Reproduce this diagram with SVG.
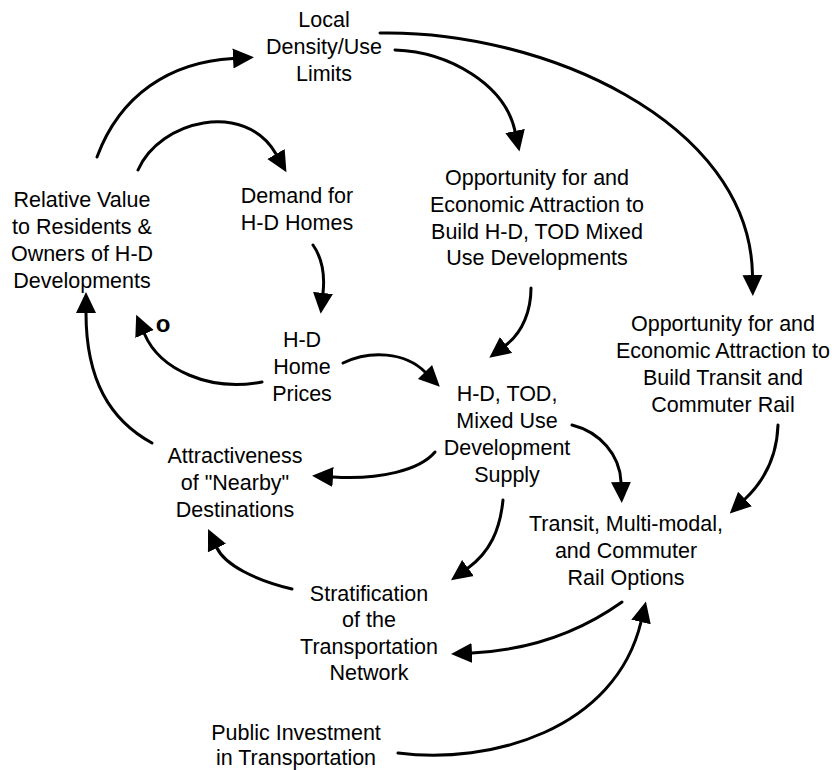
<svg xmlns="http://www.w3.org/2000/svg" width="834" height="770" viewBox="0 0 834 770">
<style>
.lbl{font-family:"Liberation Sans",Arial,sans-serif;font-size:21.5px;text-anchor:middle;fill:#000}
.pol{font-family:"Liberation Sans",Arial,sans-serif;font-size:24px;font-weight:bold;text-anchor:middle;fill:#000}
.c{fill:none;stroke:#000;stroke-width:3;stroke-linecap:round;marker-end:url(#ah)}
</style>
<defs>
<marker id="ah" markerUnits="userSpaceOnUse" markerWidth="22" markerHeight="22" refX="0" refY="10" orient="auto" viewBox="0 0 22 20">
<path d="M0,0 L21,10 L0,20 Z" fill="#000"/>
</marker>
</defs>
<rect width="834" height="770" fill="#fff"/>
<g id="connectors">
<path class="c" d="M97,157 C120,95 170,62 233,58.5"/>
<path class="c" d="M138,170 C160,120 245,100 276,154"/>
<path class="c" d="M395,50 C450,52 505,85 515,131"/>
<path class="c" d="M380,33 C540,30 750,120 752.5,275"/>
<path class="c" d="M313,245 C322,258 325,275 323,293"/>
<path class="c" d="M262,382 C210,392 160,370 144.5,334"/>
<path class="c" d="M343,363 C370,350 405,352 425,372"/>
<path class="c" d="M531,288 C531,310 523,332 506,345"/>
<path class="c" d="M435,452 C420,470 380,480 333,477"/>
<path class="c" d="M572,425 C600,432 620,455 621,482"/>
<path class="c" d="M778,425 C777,455 765,480 745,499"/>
<path class="c" d="M503,500 C500,530 490,552 468,568"/>
<path class="c" d="M622,602 C580,632 530,650 472,653"/>
<path class="c" d="M398,753 C490,765 615,730 641,622"/>
<path class="c" d="M292,589 C255,580 225,565 217,548"/>
<path class="c" d="M152,443 C110,420 86,380 86,313"/>
<text class="pol" x="163" y="332">o</text>
</g>
<g id="local"><text class="lbl"><tspan x="324" y="27">Local</tspan><tspan x="324" y="54">Density/Use</tspan><tspan x="324" y="81">Limits</tspan></text></g>
<g id="demand"><text class="lbl"><tspan x="297" y="203">Demand for</tspan><tspan x="297" y="230">H-D Homes</tspan></text></g>
<g id="relative"><text class="lbl"><tspan x="82" y="207">Relative Value</tspan><tspan x="82" y="234">to Residents &amp;</tspan><tspan x="82" y="261">Owners of H-D</tspan><tspan x="82" y="288">Developments</tspan></text></g>
<g id="tod-opportunity"><text class="lbl"><tspan x="537" y="185">Opportunity for and</tspan><tspan x="537" y="212">Economic Attraction to</tspan><tspan x="537" y="239">Build H-D, TOD Mixed</tspan><tspan x="537" y="265">Use Developments</tspan></text></g>
<g id="prices"><text class="lbl"><tspan x="302" y="347">H-D</tspan><tspan x="302" y="374">Home</tspan><tspan x="302" y="401">Prices</tspan></text></g>
<g id="supply"><text class="lbl"><tspan x="507" y="401">H-D, TOD,</tspan><tspan x="507" y="428">Mixed Use</tspan><tspan x="507" y="455">Development</tspan><tspan x="507" y="482">Supply</tspan></text></g>
<g id="transit-opportunity"><text class="lbl"><tspan x="723" y="331">Opportunity for and</tspan><tspan x="723" y="358">Economic Attraction to</tspan><tspan x="723" y="385">Build Transit and</tspan><tspan x="723" y="412">Commuter Rail</tspan></text></g>
<g id="attractiveness"><text class="lbl"><tspan x="235" y="463">Attractiveness</tspan><tspan x="235" y="490">of "Nearby"</tspan><tspan x="235" y="517">Destinations</tspan></text></g>
<g id="transit"><text class="lbl"><tspan x="626" y="531">Transit, Multi-modal,</tspan><tspan x="626" y="558">and Commuter</tspan><tspan x="626" y="585">Rail Options</tspan></text></g>
<g id="stratification"><text class="lbl"><tspan x="369" y="601">Stratification</tspan><tspan x="369" y="627">of the</tspan><tspan x="369" y="654">Transportation</tspan><tspan x="369" y="680">Network</tspan></text></g>
<g id="public-investment"><text class="lbl"><tspan x="296" y="740">Public Investment</tspan><tspan x="296" y="765">in Transportation</tspan></text></g>
</svg>
